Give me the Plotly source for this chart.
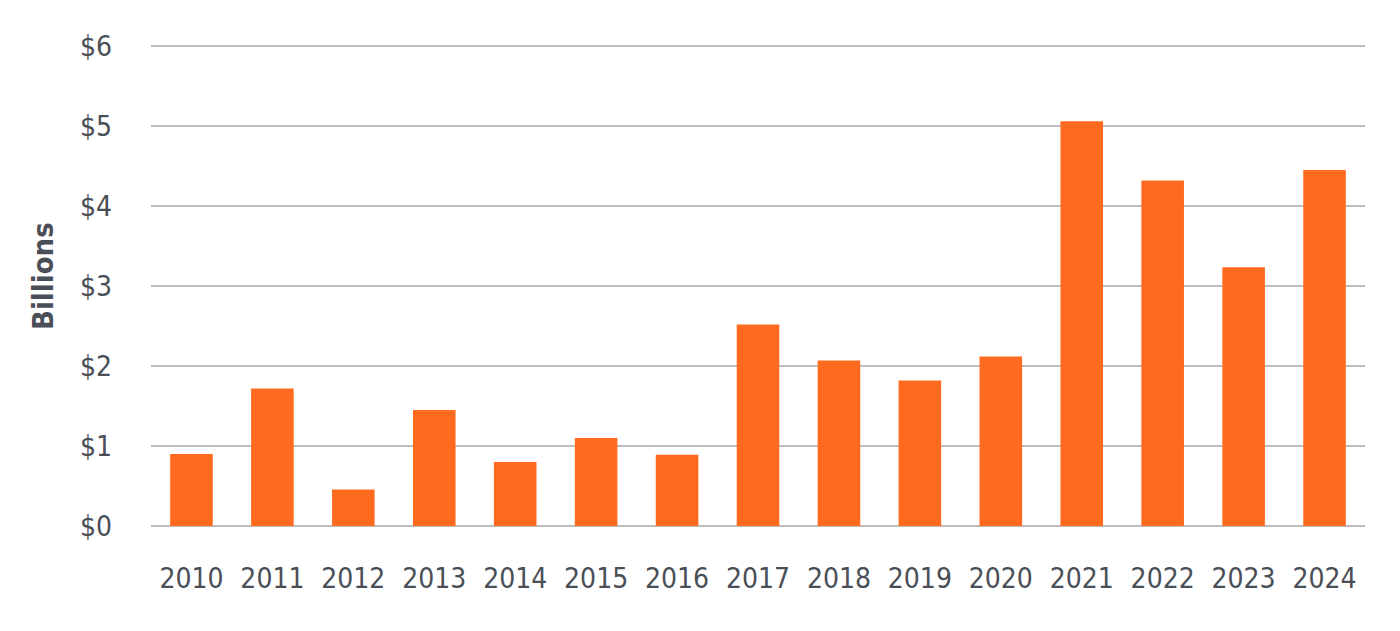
import plotly.graph_objects as go

years = ["2010", "2011", "2012", "2013", "2014", "2015", "2016", "2017",
         "2018", "2019", "2020", "2021", "2022", "2023", "2024"]
values = [0.90, 1.72, 0.455, 1.45, 0.80, 1.10, 0.89, 2.52,
          2.07, 1.82, 2.12, 5.06, 4.32, 3.235, 4.45]
tick_vals = [0, 1, 2, 3, 4, 5, 6]
tick_text = ["$0", "$1", "$2", "$3", "$4", "$5", "$6"]
y_title = "Billions"

FONT = "DejaVu Sans Condensed, Liberation Sans, sans-serif"
TXT = "#4a4f57"
GRID = "#bdbdbd"

fig = go.Figure(go.Bar(x=years, y=values, marker=dict(color="#ff6a1f", line=dict(width=0))))

fig.update_layout(
    width=1400, height=631,
    margin=dict(l=143, r=43, t=34, b=113),
    paper_bgcolor="white", plot_bgcolor="white",
    bargap=0.474,
    showlegend=False,
    font=dict(family=FONT, color=TXT, size=28),
)
fig.update_xaxes(
    type="category", showgrid=False, showline=False, ticks="",
    tickfont=dict(family=FONT, size=28, color=TXT),
    ticklabelstandoff=33, automargin=False,
)
fig.update_yaxes(
    range=[0, 6.05], tickvals=tick_vals, ticktext=tick_text,
    showgrid=True, gridcolor=GRID, gridwidth=2,
    zeroline=True, zerolinecolor=GRID, zerolinewidth=2,
    showline=False, ticks="",
    tickfont=dict(family=FONT, size=28, color=TXT),
    ticklabelstandoff=38, automargin=False,
)
fig.add_annotation(
    text="<b>" + y_title + "</b>", textangle=-90,
    xref="paper", yref="paper", x=-0.089, y=0.5165,
    xanchor="center", yanchor="middle", showarrow=False,
    font=dict(family=FONT, size=29, color=TXT),
)

fig.write_html("out.html")
